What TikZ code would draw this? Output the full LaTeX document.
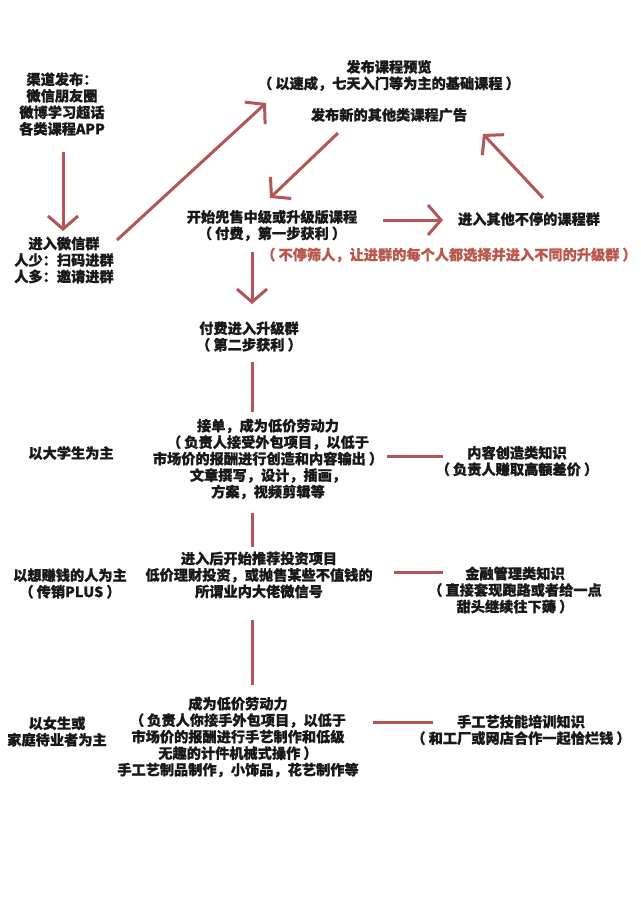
\documentclass[tikz,border=0pt]{standalone}
\usepackage{fontspec}
\setmainfont{Noto Sans CJK SC}[Kerning=Off, BoldFeatures={FakeBold=0.8}]
\newcommand\zlp{（\hspace{0.22em}}
\newcommand\zrp{\hspace{0.22em}）}
\usetikzlibrary{arrows.meta}
\definecolor{arrowc}{RGB}{178,86,88}
\definecolor{notec}{RGB}{186,88,78}
\definecolor{textc}{RGB}{25,25,25}
\tikzset{
  txt/.style={font=\fontsize{14.2}{16.5}\selectfont\bfseries, align=center, inner sep=0pt, text=textc},
  note/.style={txt, text=notec},
  arr/.style={draw=arrowc, line width=3pt, -{Straight Barb[length=13pt,width=30pt]}},
  lnk/.style={draw=arrowc, line width=3pt}
}
\begin{document}
\begin{tikzpicture}[x=1pt,y=-1pt]
\useasboundingbox[fill=white] (0,0) rectangle (640,897);
% text nodes
\node[txt] (qudao) at (62,104) {渠道发布：\\微信朋友圈\\微博学习超话\\各类课程APP};
\node[txt] (weixin) at (64,260) {进入微信群\\人少：扫码进群\\人多：邀请进群};
\node[txt] (preview) at (389,75.5) {发布课程预览\\\zlp 以速成，七天入门等为主的基础课程\zrp};
\node[txt] (newad) at (389,115) {发布新的其他类课程广告};
\node[txt] (kaishi) at (272,225.5) {开始兜售中级或升级版课程\\\zlp 付费，第一步获利\zrp};
\node[txt] (other) at (529,219) {进入其他不停的课程群};
\node[note] (shai) at (449,255) {\zlp 不停筛人，让进群的每个人都选择并进入不同的升级群\zrp};
\node[txt] (fufei) at (249,336.5) {付费进入升级群\\\zlp 第二步获利\zrp};
\node[txt] (jiedan) at (268,459) {接单，成为低价劳动力\\\zlp 负责人接受外包项目，以低于\\市场价的报酬进行创造和内容输出\zrp\\文章撰写，设计，插画，\\方案，视频剪辑等};
\node[txt] (daxue) at (71,453) {以大学生为主};
\node[txt] (neirong) at (517,461) {内容创造类知识\\\zlp 负责人赚取高额差价\zrp};
\node[txt] (touzi) at (259,575) {进入后开始推荐投资项目\\低价理财投资，或抛售某些不值钱的\\所谓业内大佬微信号};
\node[txt] (zhuanqian) at (70,583.5) {以想赚钱的人为主\\\zlp 传销PLUS\zrp};
\node[txt] (jinrong) at (515,590) {金融管理类知识\\\zlp 直接套现跑路或者给一点\\甜头继续往下薅\zrp};
\node[txt] (laodong) at (238,737) {成为低价劳动力\\\zlp 负责人你接手外包项目，以低于\\市场价的报酬进行手艺制作和低级\\无趣的计件机械式操作\zrp\\手工艺制品制作，小饰品，花艺制作等};
\node[txt] (nvsheng) at (57,731.5) {以女生或\\家庭待业者为主};
\node[txt] (shougong) at (521,730) {手工艺技能培训知识\\\zlp 和工厂或网店合作一起恰烂钱\zrp};
% connector end points
\coordinate (a1s) at (63,152);  \coordinate (a1e) at (63,231);
\coordinate (a2s) at (117,240); \coordinate (a2e) at (266,103);
\coordinate (a3s) at (338,133); \coordinate (a3e) at (270,198);
\coordinate (a4s) at (383,220); \coordinate (a4e) at (443,220);
\coordinate (a5s) at (543,198); \coordinate (a5e) at (483,134);
\coordinate (a6s) at (252,252); \coordinate (a6e) at (252,304);
\coordinate (l1s) at (252,362); \coordinate (l1e) at (252,412);
\coordinate (l2s) at (252,513); \coordinate (l2e) at (252,547);
\coordinate (l3s) at (252,620); \coordinate (l3e) at (252,685);
\coordinate (h1s) at (387,456); \coordinate (h1e) at (443,456);
\coordinate (h2s) at (394,572); \coordinate (h2e) at (443,572);
\coordinate (h3s) at (373,722); \coordinate (h3e) at (433,722);
% arrows
\draw[arr] (a1s) -- (a1e);
\draw[arr] (a2s) -- (a2e);
\draw[arr] (a3s) -- (a3e);
\draw[arr] (a4s) -- (a4e);
\draw[arr] (a5s) -- (a5e);
\draw[arr] (a6s) -- (a6e);
% plain links
\draw[lnk] (l1s) -- (l1e);
\draw[lnk] (l2s) -- (l2e);
\draw[lnk] (l3s) -- (l3e);
\draw[lnk] (h1s) -- (h1e);
\draw[lnk] (h2s) -- (h2e);
\draw[lnk] (h3s) -- (h3e);
\end{tikzpicture}
\end{document}
